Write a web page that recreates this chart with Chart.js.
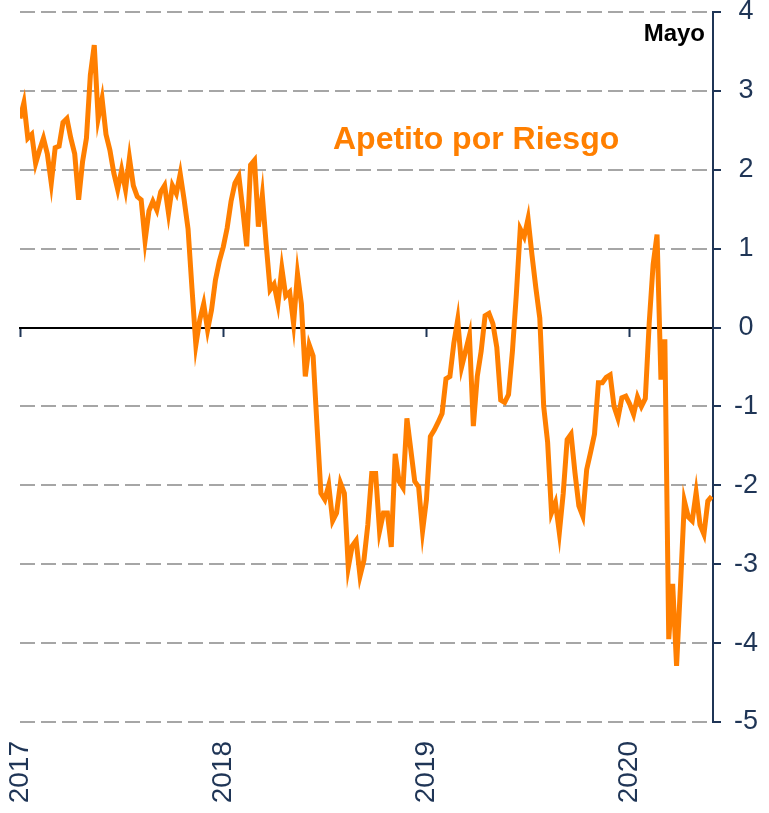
<!DOCTYPE html>
<html>
<head>
<meta charset="utf-8">
<script src="https://cdn.jsdelivr.net/npm/chart.js@4"></script>
<style>
  body { margin: 0; background: #fff; }
  canvas { display: block; }
</style>
</head>
<body>
<canvas id="riskChart" width="769" height="813"></canvas>
<script>
//VARIABLES

//Colors
var $orange = "#ff7f00";
var $navy = "#1f3556";
var $gridGray = "#a6a6a6";

//Data (weekly readings, first week of 2017 onwards)
var startYear = 2017;
var weeksPerYear = 52;
var tickLabels = ["2017", "2018", "2019", "2020"];
var riskAppetite = [
  2.65, 2.85, 2.4, 2.45, 2.08, 2.25, 2.4, 2.2, 1.83, 2.28,
  2.3, 2.6, 2.65, 2.4, 2.2, 1.62, 2.1, 2.4, 3.2, 3.58,
  2.65, 2.9, 2.45, 2.25, 1.96, 1.75, 2.0, 1.75, 2.15, 1.8,
  1.66, 1.62, 1.1, 1.48, 1.6, 1.49, 1.72, 1.8, 1.45, 1.8,
  1.7, 1.95, 1.62, 1.25, 0.5,
  -0.22, 0.1, 0.3, -0.03, 0.22, 0.6, 0.84, 1.02, 1.26, 1.6,
  1.83, 1.92, 1.5, 1.03, 2.06, 2.12, 1.28, 1.68, 1.05, 0.48,
  0.55, 0.3, 0.75, 0.4, 0.45, 0.05, 0.68, 0.3, -0.62, -0.22,
  -0.36, -1.25, -2.1, -2.18, -2.0, -2.45, -2.35, -1.97, -2.1, -3.04,
  -2.77, -2.7, -3.15, -2.95,
  -2.5, -1.85, -1.85, -2.58, -2.35, -2.35, -2.78, -1.6, -1.95, -2.03,
  -1.15, -1.55, -1.95, -2.02, -2.58, -2.18, -1.38, -1.3, -1.2, -1.09,
  -0.65, -0.62, -0.2, 0.1, -0.5, -0.3, -0.1, -1.25, -0.62, -0.3,
  0.15, 0.18, 0.05, -0.25, -0.92, -0.95, -0.85, -0.3, 0.42, 1.25,
  1.15, 1.38, 0.92, 0.5,
  0.12, -1.0, -1.45, -2.35, -2.22, -2.6, -2.1, -1.42, -1.35, -1.84,
  -2.26, -2.39, -1.8, -1.58, -1.35, -0.7, -0.7, -0.63, -0.6, -1.0,
  -1.15, -0.89, -0.87, -0.97, -1.1, -0.88, -1.0, -0.9, 0.06, 0.8,
  1.18, -0.66, -0.15, -3.95, -3.25, -4.29, -3.27, -2.2, -2.4, -2.45,
  -2.09, -2.5, -2.62, -2.2, -2.14
];

var xMin = startYear;
var xMax = 2020.41;

// Build the points for the linear x scale
var points = riskAppetite.map(function (v, i) {
  return { x: startYear + i / weeksPerYear, y: v };
});

// Text labels inside the plot
var labelsPlugin = {
  id: "labelsPlugin",
  afterDraw: function (chart) {
    var ctx = chart.ctx;
    ctx.save();
    ctx.font = "bold 24px 'Liberation Sans'";
    ctx.fillStyle = "#000";
    ctx.textAlign = "right";
    ctx.fillText("Mayo", 705, 41);
    ctx.font = "bold 32px 'Liberation Sans'";
    ctx.fillStyle = $orange;
    ctx.textAlign = "left";
    ctx.fillText("Apetito por Riesgo", 333, 149);
    ctx.restore();
  }
};

// keep the axes from adding their own padding
function noPadding(scale) {
  scale.paddingTop = 0;
  scale.paddingBottom = 0;
  scale.paddingLeft = 0;
  scale.paddingRight = 0;
}

function riskChart() {
  var ctx = document.getElementById("riskChart").getContext("2d");
  var myLineChart = new Chart(ctx, {
    type: "line",
    data: {
      datasets: [
        {
          data: points,
          borderColor: $orange,
          borderWidth: 5,
          pointRadius: 0,
          tension: 0,
          fill: false
        }
      ]
    },
    options: {
      responsive: false,
      animation: false,
      devicePixelRatio: 1,
      layout: { padding: { left: 20, top: 12, right: 0, bottom: 0 } },
      plugins: {
        legend: { display: false },
        tooltip: { enabled: false }
      },
      scales: {
        x: {
          type: "linear",
          min: xMin,
          max: xMax,
          position: { y: 0 },
          border: { color: "#000", width: 2 },
          grid: {
            drawOnChartArea: false,
            drawTicks: true,
            tickLength: 8,
            tickColor: $navy,
            tickWidth: 2,
            tickBorderDash: []
          },
          ticks: { display: false, stepSize: 1, includeBounds: false },
          afterFit: noPadding
        },
        x2: {
          type: "linear",
          axis: "x",
          min: xMin,
          max: xMax,
          position: "bottom",
          grid: { display: false, drawTicks: false },
          border: { display: false },
          ticks: {
            stepSize: 1,
            includeBounds: false,
            autoSkip: false,
            minRotation: 90,
            maxRotation: 90,
            padding: 19,
            color: $navy,
            font: { family: "'Liberation Sans'", size: 28 },
            callback: function (v) {
              return tickLabels[v - startYear];
            }
          },
          afterFit: function (scale) {
            noPadding(scale);
            scale.height = 91;
          }
        },
        y: {
          position: "right",
          min: -5,
          max: 4,
          border: { color: $navy, width: 2, dash: [15, 6] },
          grid: {
            color: $gridGray,
            lineWidth: 2,
            drawTicks: true,
            tickLength: 8,
            tickColor: $navy,
            tickWidth: 2,
            tickBorderDash: []
          },
          ticks: {
            stepSize: 1,
            padding: 13,
            crossAlign: "center",
            color: $navy,
            font: { family: "'Liberation Sans'", size: 27 }
          },
          afterFit: function (scale) {
            noPadding(scale);
            scale.width = 56;
          }
        }
      }
    },
    plugins: [labelsPlugin]
  });
}

//Show Chart on load
riskChart();
</script>
</body>
</html>
